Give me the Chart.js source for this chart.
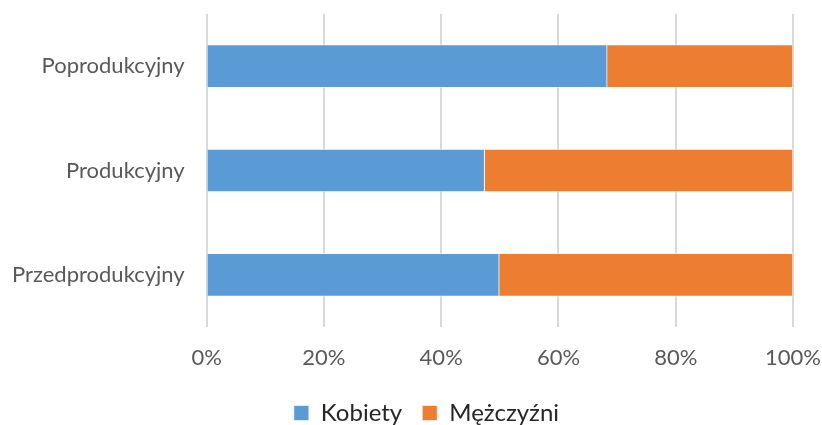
<!DOCTYPE html>
<html>
<head>
<meta charset="utf-8">
<script src="https://cdn.jsdelivr.net/npm/chart.js@4.4.1/dist/chart.umd.min.js"></script>
<style>
  html, body { margin: 0; padding: 0; background: #fff; }
  #wrap { width: 822px; height: 425px; }
</style>
</head>
<body>
<div id="wrap"><canvas id="grafico"></canvas></div>
<script>
// Dane (udział w %)
const kategorie = ['Poprodukcyjny', 'Produkcyjny', 'Przedprodukcyjny'];
const kobiety = [68.3, 47.4, 49.9];
const mezczyzni = [31.7, 52.6, 50.1];
const etykietyOsi = ['0%', '20%', '40%', '60%', '80%', '100%'];

const ctx = document.getElementById('grafico').getContext('2d');

// przesunięcie legendy, żeby stała jak w oryginale
const przesunLegende = {
    id: 'przesunLegende',
    afterLayout(chart) {
        const l = chart.legend;
        l.left += 30; l.right += 30;
        l.top += 10; l.bottom += 10;
    }
};

new Chart(ctx, {
    type: 'bar',
    data: {
        labels: kategorie,
        datasets: [{
            label: 'Kobiety',
            data: kobiety,
            backgroundColor: '#5B9BD5',
            borderColor: 'rgba(255,255,255,0.6)',
            borderWidth: 1,
            barThickness: 43
        }, {
            label: 'Mężczyźni',
            data: mezczyzni,
            backgroundColor: '#ED7D31',
            borderColor: 'rgba(255,255,255,0.6)',
            borderWidth: 1,
            barThickness: 43
        }]
    },
    options: {
        indexAxis: 'y',
        responsive: true,
        maintainAspectRatio: false,
        animation: false,
        layout: { padding: { top: 14, right: 29, left: 0, bottom: 0 } },
        plugins: {
            tooltip: { enabled: false },
            legend: {
                position: 'bottom',
                labels: {
                    font: { family: 'Lato', size: 24 },
                    color: '#262626',
                    boxWidth: 15,
                    boxHeight: 15,
                    padding: 20
                }
            }
        },
        scales: {
            x: {
                stacked: true,
                min: 0,
                max: 100,
                ticks: {
                    stepSize: 20,
                    padding: 18,
                    color: '#595959',
                    font: { family: 'Lato', size: 22 },
                    callback: (v, i) => etykietyOsi[i]
                },
                grid: { color: '#d9d9d9', lineWidth: 2, drawTicks: false },
                border: { display: false },
                afterFit: s => { s.paddingLeft = 0; s.paddingRight = 0; s.height = 44; }
            },
            y: {
                stacked: true,
                ticks: {
                    padding: 22,
                    color: '#595959',
                    font: { family: 'Lato', size: 22 }
                },
                grid: { display: false, drawTicks: false },
                border: { display: false },
                afterFit: s => { s.paddingTop = 0; s.paddingBottom = 0; s.width -= 10; }
            }
        }
    },
    plugins: [przesunLegende]
});
</script>
</body>
</html>
